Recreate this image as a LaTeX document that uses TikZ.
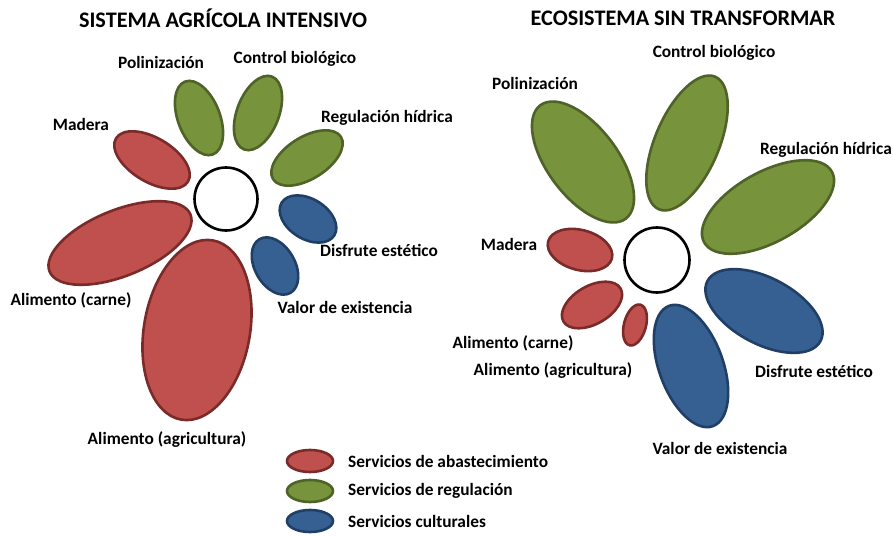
\documentclass[tikz,border=0pt]{standalone}
\usepackage{fontspec}
\setmainfont{Carlito}
\usepackage{tikz}
\usetikzlibrary{shapes.geometric}
\definecolor{redfill}{HTML}{C0504D}
\definecolor{redline}{HTML}{7A2B29}
\definecolor{greenfill}{HTML}{77933C}
\definecolor{greenline}{HTML}{4F6228}
\definecolor{bluefill}{HTML}{376092}
\definecolor{blueline}{HTML}{203F66}

\begin{document}
\begin{tikzpicture}[x=1bp,y=-1bp,
  petal/.style={ellipse,inner sep=0pt,line width=2.6bp},
  sz/.style 2 args={minimum width=#1bp,minimum height=#2bp},
  abast/.style={petal,fill=redfill,draw=redline},
  regul/.style={petal,fill=greenfill,draw=greenline},
  cult/.style={petal,fill=bluefill,draw=blueline},
  core/.style={circle,draw=black,fill=white,line width=2.6bp,inner sep=0pt,minimum size=63bp},
  lbl/.style={font=\bfseries\fontsize{17.4}{20}\selectfont,inner sep=0pt},
  ttl/.style={font=\bfseries\fontsize{22.3}{26}\selectfont,inner sep=0pt}]
\useasboundingbox (0,0) rectangle (893,537);
% sistema agricola intensivo
\node[ttl] (tleft) at (223,18) {SISTEMA AGRÍCOLA INTENSIVO};
\node[core] (lcore) at (226,199) {};
\node[regul,sz={78}{42},rotate=-69] (lpol) at (199,118) {};
\node[regul,sz={78}{42},rotate=69] (lbio) at (258,113) {};
\node[regul,sz={80}{42},rotate=32] (lhid) at (307,158) {};
\node[abast,sz={84}{44},rotate=-31] (lmad) at (152,160) {};
\node[abast,sz={152}{66},rotate=22] (lcar) at (120,243) {};
\node[abast,sz={182}{106},rotate=80] (lagr) at (197,330) {};
\node[cult,sz={62}{40},rotate=-32] (ldis) at (308,219) {};
\node[cult,sz={62}{40},rotate=-60] (lval) at (275,266) {};
\node[lbl] (lpoltxt) at (161,62) {Polinización};
\node[lbl] (lbiotxt) at (295,59) {Control biológico};
\node[lbl] (lhidtxt) at (387,118) {Regulación hídrica};
\node[lbl] (lmadtxt) at (81,124) {Madera};
\node[lbl] (lcartxt) at (71,300) {Alimento (carne)};
\node[lbl] (lagrtxt) at (167,440) {Alimento (agricultura)};
\node[lbl] (ldistxt) at (379,250) {Disfrute estético};
\node[lbl] (lvaltxt) at (345,307) {Valor de existencia};
% ecosistema sin transformar
\node[ttl] (tright) at (683,18) {ECOSISTEMA SIN TRANSFORMAR};
\node[core,minimum size=65bp] (rcore) at (657,260) {};
\node[regul,sz={142}{70},rotate=-53] (rpol) at (583,162) {};
\node[regul,sz={144}{64},rotate=67] (rbio) at (687,143) {};
\node[regul,sz={146}{70},rotate=29] (rhid) at (768,207) {};
\node[abast,sz={66}{40},rotate=-15] (rmad) at (580,250) {};
\node[abast,sz={66}{38},rotate=30] (rcar) at (592,305) {};
\node[abast,sz={42}{22},rotate=75] (ragr) at (635,325) {};
\node[cult,sz={128}{66},rotate=-28] (rdis) at (764,311) {};
\node[cult,sz={128}{64},rotate=-70] (rval) at (691,366) {};
\node[lbl] (rpoltxt) at (535,83) {Polinización};
\node[lbl] (rbiotxt) at (714,53) {Control biológico};
\node[lbl] (rhidtxt) at (826,150) {Regulación hídrica};
\node[lbl] (rmadtxt) at (509,244) {Madera};
\node[lbl] (rcartxt) at (513,343) {Alimento (carne)};
\node[lbl] (ragrtxt) at (553,371) {Alimento (agricultura)};
\node[lbl] (rdistxt) at (814,371) {Disfrute estético};
\node[lbl] (rvaltxt) at (720,448) {Valor de existencia};
% leyenda
\foreach \k/\s/\y/\t in {a/abast/461/Servicios de abastecimiento,b/regul/491/Servicios de regulación,c/cult/521/Servicios culturales}{
  \node[\s,sz={46}{22}] (key\k) at (310,\y) {};
  \node[lbl,anchor=west] (key\k txt) at (348,\y) {\t};
}
\end{tikzpicture}
\end{document}
